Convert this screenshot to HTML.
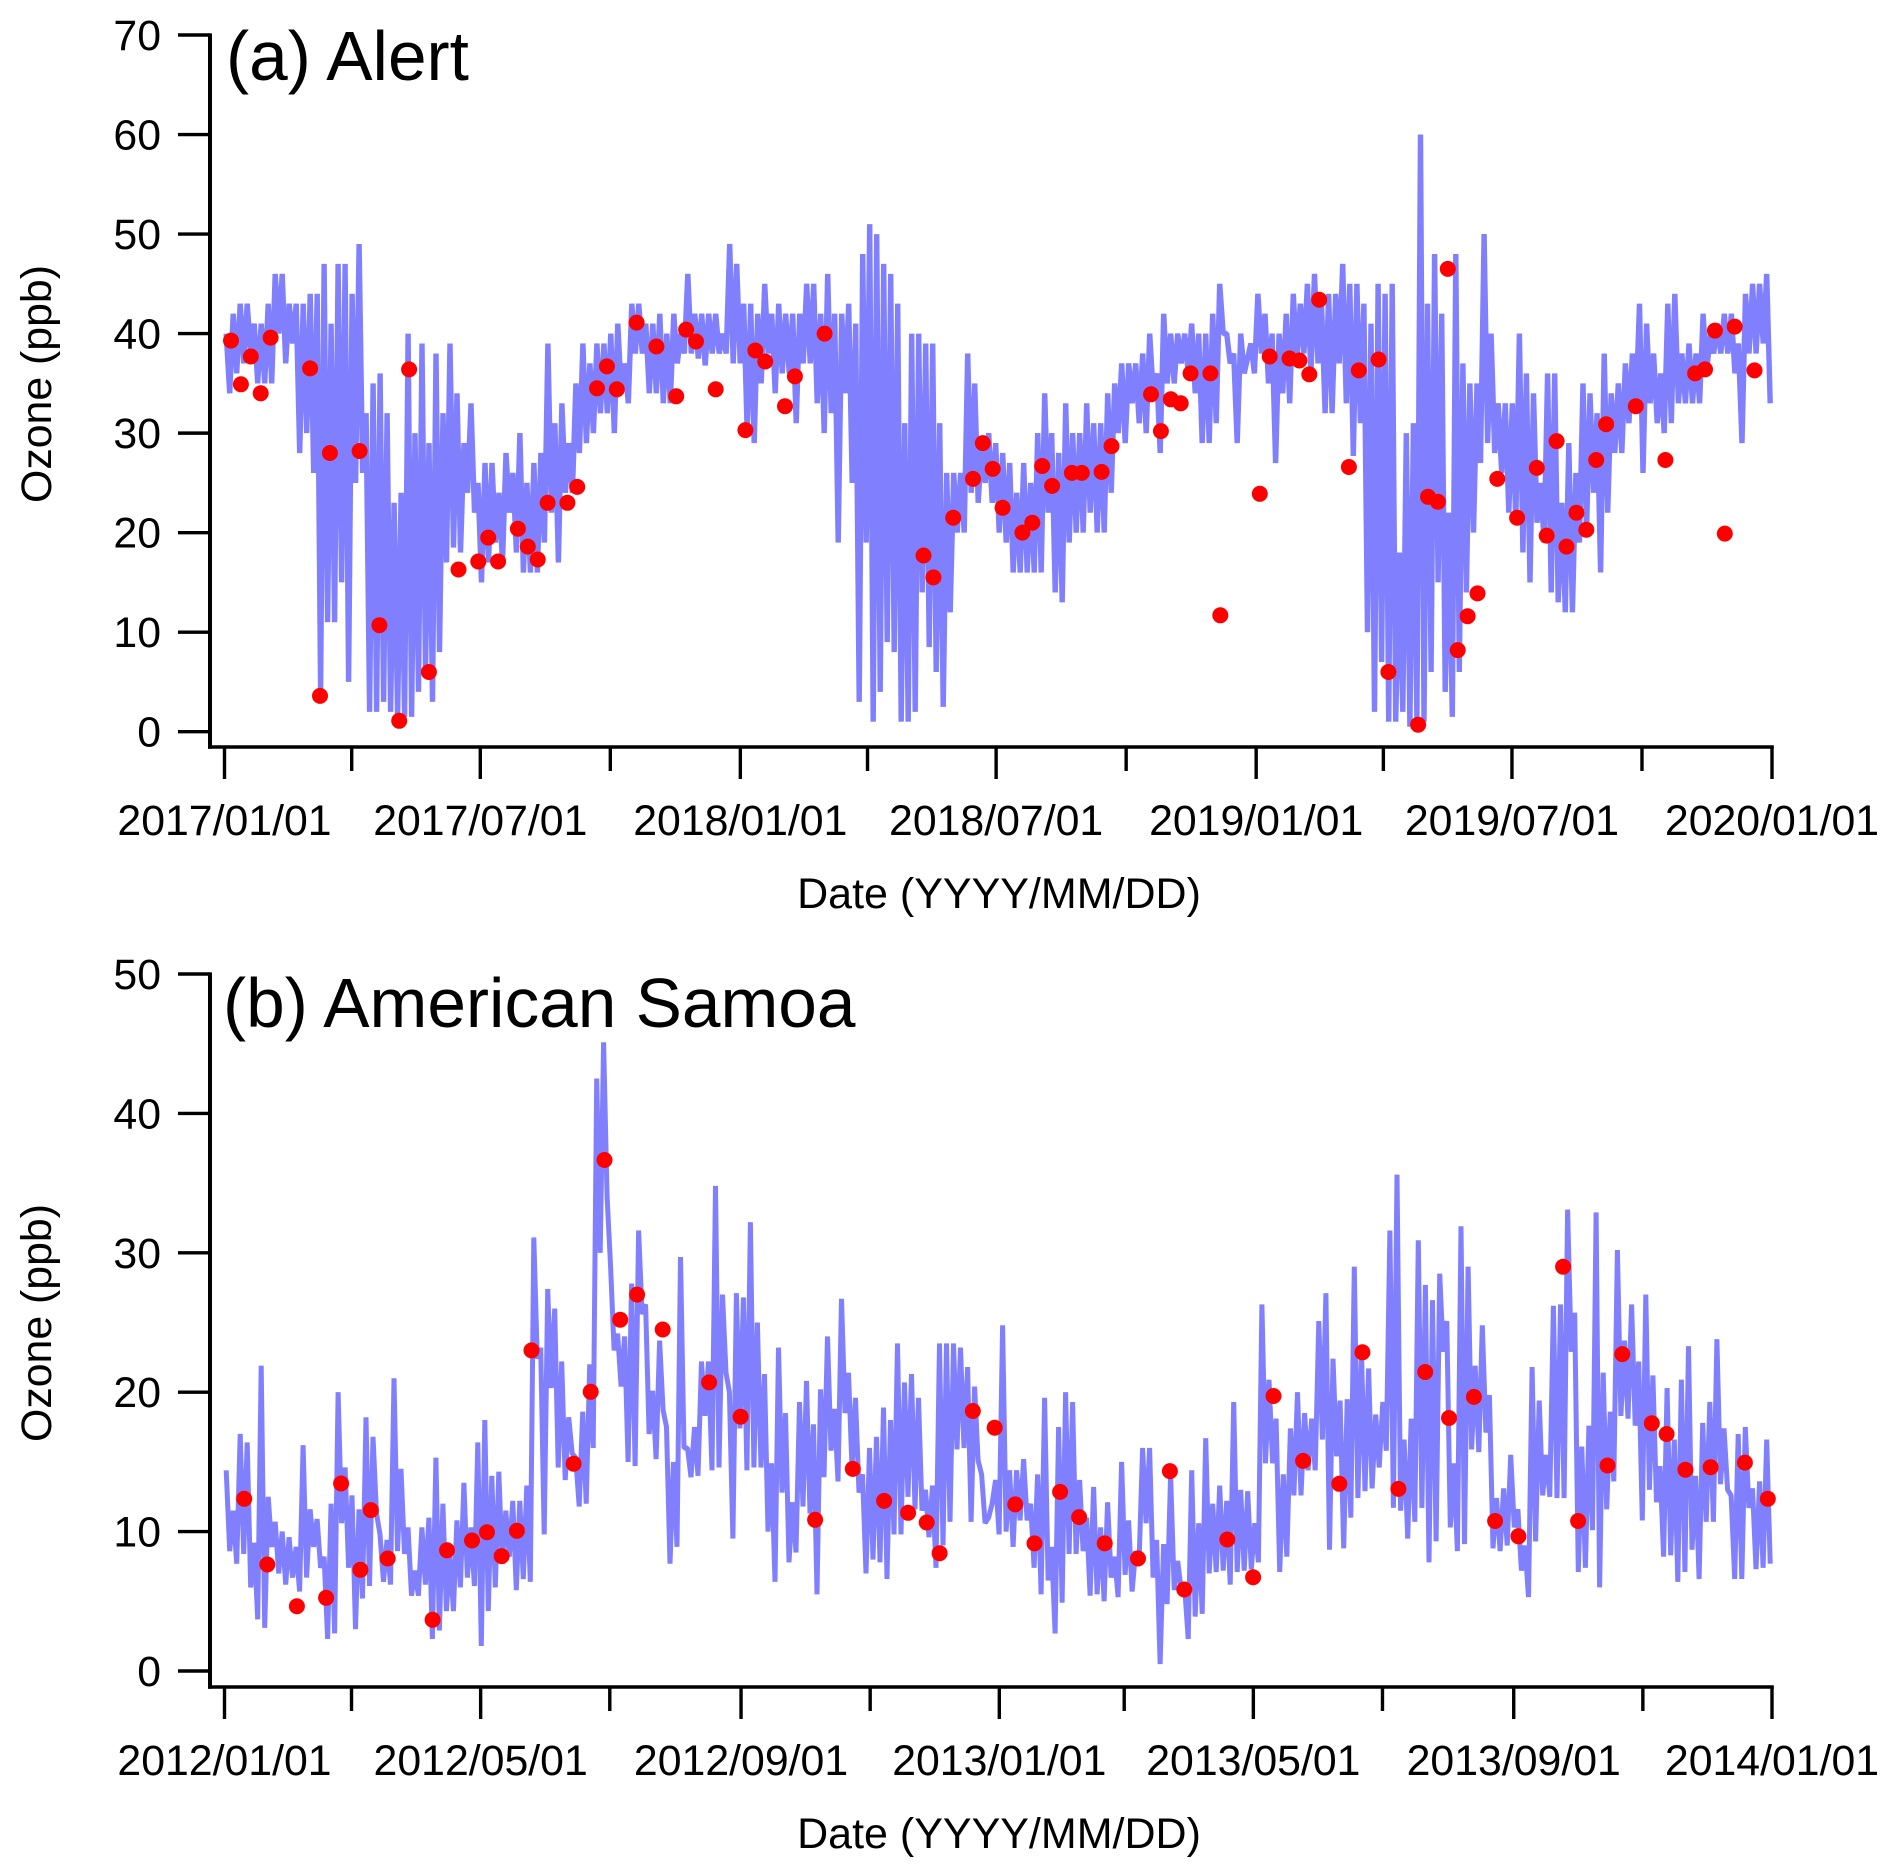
<!DOCTYPE html>
<html lang="en">
<head>
<meta charset="utf-8">
<title>Ozone time series: Alert and American Samoa</title>
<style>
html,body{margin:0;padding:0;background:#fff}
svg{display:block}
text{font-family:"Liberation Sans",Arial,sans-serif;fill:#000}
.t{font-size:42.8px}
.h{font-size:69.4px}
.d{font-size:43px}
</style>
</head>
<body>
<svg id="fig" xmlns="http://www.w3.org/2000/svg" width="1892" height="1876" viewBox="0 0 1892 1876">
  <rect x="0" y="0" width="1892" height="1876" fill="#fff"/>
  <g id="panelA"></g>
  <g id="panelB"></g>
  <text class="h" x="226" y="80">(a) Alert</text>
  <text class="h" x="223" y="1027">(b) American Samoa</text>
  <text class="t" text-anchor="middle" transform="translate(51,384) rotate(-90)">Ozone (ppb)</text>
  <text class="t" text-anchor="middle" transform="translate(51,1323) rotate(-90)">Ozone (ppb)</text>
  <text class="d" text-anchor="middle" x="999" y="908">Date (YYYY/MM/DD)</text>
  <text class="d" text-anchor="middle" x="999" y="1848">Date (YYYY/MM/DD)</text>
</svg>
<script>
// ---------- Panel (a) Alert: data ----------
const alertYTicks = [0,10,20,30,40,50,60,70];
const alertXTickDays = [0,90,181,273,365,455,546,638,730,820,911,1003,1095];
const alertXTickLabels = ['2017/01/01','','2017/07/01','','2018/01/01','','2018/07/01','','2019/01/01','','2019/07/01','','2020/01/01'];
const alertChunkDays = [[0,361.2],[361.2,722.8],[725,1095]];
const alertOzone1 = [40,34,42,36,43,37,43,38,41,35,41,35,43,35,46,40,46,37,43,39,43,28,43,30,44,26,44,4,47,11,41,11,47,15,47,5,44,25,49,26,32,2,35,2,36,3,32,2,23,1.5,24,1.5,40,1.5,30,4,39,6,29,3,38,8,32,17,39,18.5,34,18,29,24,33,22,25,15,27,17,27,19,24,17,28,22,26,18,30,16,25,16,27,16,28,19,39,22,31,17,33,24,29,24,35,28,39,29,37,30,39,32,39,32,40,30,41,34,37,33,43,38,43,38,41,34,41,34,42,33,40,33,42,37,40,38,46,38,42,37.5,42,36.8,42,38,42,38,40,38,49,37];
const alertOzone2 = [47,37,43,30,43,29,42,35,45,38,42,34,43,36,42,36,42,31,42,37,45,37,45,33,42,30,46,32,42,19,42,34,43,25,41,3,48,19,51,1,50,4,47,9,46,8,43,1,31,1,40,2,40,14,39,8.5,39,6,31,2.5,26,12,26,20,26,20,38,24,35,23,29,25,30,23,29,20,28,19,27,16,24,16,27,16,25,16,30,16,34,22,30,14,28,13,33,19,30,20,30,20,33,22,31,20,31,20,34,24,35,30,37,29,37,33,37,31,38,30,40,34,36,28,42,35,40,35,40,37,40,36,41,34,40,29,40,29,42,31,45,40,40,37,38,29,40,36];
const alertOzone3 = [39,36,44,38,42,35,40,27,40,34,42,33,44,37,43,38,45,36,46,37,43,32,44,32,44,37,47,33,45,27.7,45,31,43,10,41,2,45,7,44,1,45,1,18,2,30,0.5,31,1,60,1,43,6,48,15,42,4,22,1.5,48,6,37,14,35,20,35,27,50,29,40,28,33,26,33,22,33,21,40,18,36,15,34,21,25,19,36,14,36,13,23,12,29,12,26,19,35,20,34,24,32,16,38,22,34,28,35,28,37,31,38,33,43,26,41,33,38,31,36,30,43,31,44,33,38,33,39,33,38,33,42,36,40,38,41,38,42,38,42,36,39,29,44,38,45,38,45,39,46,33];
const alertObsWeeks = [0,1,2,3,4,8,9,10,13,15,17,18,20,23,25,26,27,29,30,31,32,34,35,37,38,39,41,43,45,46,47,49,52,53,54,56,57,60,70,71,73,75,76,77,78,80,81,82,83,85,86,88,89,93,94,95,96,97,99,100,104,105,107,108,109,110,113,114,116,117,120,121,122,123,124,125,126,128,130,132,133,134,135,136,137,138,139,142,145,148,149,150,151,152,154];
const alertObsOzone = [39.3,34.9,37.7,34,39.6,36.5,3.6,28,28.2,10.7,1.1,36.4,6,16.3,17.1,19.5,17.1,20.4,18.6,17.3,23,23,24.6,34.5,36.7,34.4,41.1,38.7,33.7,40.4,39.2,34.4,30.3,38.3,37.2,32.7,35.7,40,17.7,15.5,21.5,25.4,29,26.4,22.5,20,21,26.7,24.7,26,26,26.1,28.7,33.9,30.2,33.4,33,36,36,11.7,23.9,37.7,37.5,37.3,35.9,43.4,26.6,36.3,37.4,6,0.7,23.6,23.1,46.5,8.2,11.6,13.9,25.4,21.5,26.5,19.7,29.2,18.6,22,20.3,27.3,30.9,32.7,27.3,36,36.4,40.3,19.9,40.7,36.3];

// ---------- Panel (b) American Samoa: data ----------
const samoaYTicks = [0,10,20,30,40,50];
const samoaXTickDays = [0,60,121,182,244,305,366,425,486,547,609,670,731];
const samoaXTickLabels = ['2012/01/01','','2012/05/01','','2012/09/01','','2013/01/01','','2013/05/01','','2013/09/01','','2014/01/01'];
const samoaChunkDays = [[0,241],[241,482.5],[482.5,731]];
const samoaOzone1 = [14.4,8.6,11.5,7.7,17,8.4,16.4,6,9.2,3.7,21.9,3.1,12.5,8.9,10.7,7,10,6.2,9.6,6.7,8.9,5.7,16.2,6.7,11.6,8.9,10.9,7.4,8.2,2.3,12,2.7,20,10.6,14.6,7.4,12.6,3,11.6,5.2,18.2,6.1,16.8,11.3,9.8,6.4,9.4,6.2,21,8.6,14.5,8.4,10.3,5.4,7.2,5.4,10.3,6.2,11,2.3,15.3,2.9,12,4.3,8.4,4.3,10.8,6,13.5,6.7,10.3,6.1,16.4,1.8,18,4.3,14,6,14.3,7.7,11.5,8.2,12.2,5.8,12.2,6.6,13.3,6.4,31.1,22.4,23.2,9.8,27.4,20.3,26,14.6,22.2,13.7,18.2,15.6,15.3,11.8,18.6,12,22,16,42.5,30,45.1,34,29,23,24.2,20.4,24,15,27.8,14.7,31.6,25.6,26.3,17,20.1,15.2,23.7,18.7,17.5,7.7,15,8.9,29.7,16,16,13.9,17.5,14,22.2,18.3,22.2,14.4,34.8,14.6,27,21.4,20,9.5];
const samoaOzone2 = [27.1,17.4,26.8,14.4,32.2,14.6,25,14.6,21.3,10,14.9,6.4,23.2,12.8,18.5,7.8,12.1,8.5,19.3,11.8,20.8,11.3,17.7,5.5,20.2,13.9,24,15.8,18.8,13.6,26.7,18.5,21.4,14.6,19.6,12.8,14.1,7,16,8,16.8,7.8,18.9,6.6,18,9.8,23.5,9.8,20.7,12.5,21.3,11.6,19.6,11.5,13,9.6,13.3,7.4,23.5,9,23.5,10.7,23.5,15.9,23.2,16,21.8,10.7,20.4,15.1,14.1,10.6,11,12,13.7,9.8,24.8,10,14.4,8.9,14.4,10.8,15.2,10.8,12,7.4,14.1,5.5,19.6,6.5,8.9,2.7,17.5,4.9,20,8.4,19.3,8.4,13.7,8.6,11,5.4,13.2,5.5,10.3,5,12.1,6.7,8.2,5.3,15,6.9,10.8,5.7,8.6,7.9,16,10.6,16,6.7,9.4,0.5,9.1,4.8,14.1,5.8,7.9,5.8,6,2.3,14.4,3.9,10.6,4.1,16.7,7,12,7.1,13.3,7.2,12.2,6.2,19.3,7.1,13,7.2];
const samoaOzone3 = [12.9,7.3,10.6,7.8,26.3,14.9,20.9,14.9,18.1,7.1,14.1,8.2,17.4,12.6,20,12.6,18.5,14.4,18.1,14.4,25.1,16.6,27.1,8.7,22.4,15.4,19.4,8.8,19.5,11,29,12.4,22.9,12.9,21.7,13.1,18.4,14.6,19.3,15.8,31.6,11.7,35.6,11.5,16.6,9.5,18.1,10.7,30.9,11.7,27.7,7.8,26.6,9.3,28.5,22.9,25.1,10.3,14.9,8.6,31.9,9.1,29,15.9,21.9,15.7,24.8,17.1,19.8,8.8,12.4,8.6,13.1,9,15.5,10.3,11.6,7.2,9,5.3,21.8,9.3,19.4,12.6,15.5,12.5,26.2,12.4,26.3,12.4,33.1,22.9,25.7,7.1,16.1,7.4,17.6,10.1,32.9,6,21.4,11.6,18.6,13.6,30.2,18.3,23.7,18.1,26.3,17.6,22.2,10.8,27,13,21.2,12.1,14.7,8.2,20.3,8.3,16.6,6.4,20.9,7.1,23.3,8.7,14,6.6,17.8,10.7,19.3,10.7,23.8,13.4,17.4,13,12.6,6.6,17,6.6,17.5,11.7,13.1,7.3,13.6,7.4,16.6,7.7];
const samoaObsDays = [9.3,20.2,34.2,48,55.1,64.2,69.1,77.1,98.3,105.1,116.9,124,130.9,138.1,145,164.9,173,179.5,186.9,194.9,207,228.9,243.8,279,296.8,311.6,322.9,331.7,337.8,353.5,363.8,373.5,382.6,394.7,403.7,415.8,431.5,446.6,453.4,473.7,485.9,495.5,509.5,526.6,537.5,554.5,567.2,578.4,590.2,600.2,611.2,632.3,639.4,653.3,660.3,674.2,681.2,690.1,702,718.2,729];
const samoaObsOzone = [12.35,7.64,4.65,5.25,13.45,7.26,11.54,8.07,3.67,8.66,9.36,9.96,8.24,10.06,23,14.87,20.03,36.66,25.2,27,24.5,20.7,18.24,10.85,14.5,12.2,11.35,10.65,8.45,18.65,17.45,11.95,9.15,12.85,11.04,9.15,8.07,14.34,5.85,9.43,6.73,19.73,15.07,13.43,22.86,13.06,21.45,18.15,19.66,10.76,9.66,29,10.76,14.74,22.73,17.77,17,14.44,14.62,14.95,12.35];

// ---------- Axis scales ----------
const NS = 'http://www.w3.org/2000/svg';
const plotLeft = 224.5, plotRight = 1772;
function xAlert(day){ return plotLeft + day * (plotRight - plotLeft) / 1095; }
function yAlert(v){ return 731.7 - v * (731.7 - 35) / 70; }
function xSamoa(day){ return plotLeft + day * (plotRight - plotLeft) / 731; }
function ySamoa(v){ return 1671 - v * (1671 - 974) / 50; }
const alertWeekDay = w => 4.6 + 7 * w;

function mk(parent, tag){
  const el = document.createElementNS(NS, tag);
  parent.appendChild(el);
  return el;
}

function linePath(chunks, chunkDays, xf, yf){
  let d = '';
  chunks.forEach(function(vals, c){
    const s = chunkDays[c][0], e = chunkDays[c][1];
    vals.forEach(function(v, i){
      const x = xf(s + (i + 0.5) / vals.length * (e - s)).toFixed(1);
      const y = yf(v).toFixed(1);
      d += (d ? 'L' : 'M') + x + ' ' + y;
    });
  });
  return d;
}

function drawAxes(g, xf, yf, yTicks, xDays, xLabels, axisTop, axisBottom, prefix){
  const yLine = mk(g, 'line');
  
  
  yLine.setAttribute('x1', 210); yLine.setAttribute('x2', 210);
  yLine.setAttribute('y1', axisTop - 1.6); yLine.setAttribute('y2', axisBottom + 1.8);
  yLine.setAttribute('stroke', '#000'); yLine.setAttribute('stroke-width', 4);

  const xLine = mk(g, 'line');
  
  
  xLine.setAttribute('x1', 208); xLine.setAttribute('x2', plotRight + 1.8);
  xLine.setAttribute('y1', axisBottom); xLine.setAttribute('y2', axisBottom);
  xLine.setAttribute('stroke', '#000'); xLine.setAttribute('stroke-width', 3.6);

  yTicks.forEach(function(v){
    const t = mk(g, 'line');
    
    
    t.setAttribute('x1', 178); t.setAttribute('x2', 210);
    t.setAttribute('y1', yf(v)); t.setAttribute('y2', yf(v));
    t.setAttribute('stroke', '#000'); t.setAttribute('stroke-width', 3.4);
    const l = mk(g, 'text');
    
    
    l.setAttribute('class', 't');
    l.setAttribute('text-anchor', 'end');
    l.setAttribute('x', 161);
    l.setAttribute('y', yf(v) + 15);
    l.textContent = String(v);
  });

  xDays.forEach(function(day, i){
    const major = xLabels[i] !== '';
    const t = mk(g, 'line');
    
    
    t.setAttribute('x1', xf(day)); t.setAttribute('x2', xf(day));
    t.setAttribute('y1', axisBottom); t.setAttribute('y2', axisBottom + (major ? 32 : 24));
    t.setAttribute('stroke', '#000'); t.setAttribute('stroke-width', 3.4);
    if (major) {
      const l = mk(g, 'text');
      
      
      l.setAttribute('class', 't');
      l.setAttribute('text-anchor', 'middle');
      l.setAttribute('x', xf(day));
      l.setAttribute('y', axisBottom + 88);
      l.textContent = xLabels[i];
    }
  });
}

function drawLine(g, d, name, width){
  const p = mk(g, 'path');
  
  
  p.setAttribute('d', d);
  p.setAttribute('fill', 'none');
  p.setAttribute('stroke', '#8080ff');
  p.setAttribute('stroke-width', width);
  p.setAttribute('stroke-linejoin', 'bevel');
}

function drawDot(g, x, y, name){
  const c = mk(g, 'circle');
  
  
  c.setAttribute('cx', x.toFixed(1));
  c.setAttribute('cy', y.toFixed(1));
  c.setAttribute('r', 8);
  c.setAttribute('fill', '#ff0000');
}

// ---------- Panel (a) ----------
const gA = document.getElementById('panelA');
drawLine(gA, linePath([alertOzone1, alertOzone2, alertOzone3], alertChunkDays, xAlert, yAlert), 'alert-hourly-ozone-line', 5.4);
alertObsWeeks.forEach(function(w, i){
  drawDot(gA, xAlert(alertWeekDay(w)), yAlert(alertObsOzone[i]), 'alert-ozonesonde-point');
});
drawAxes(gA, xAlert, yAlert, alertYTicks, alertXTickDays, alertXTickLabels, 35, 747, 'panel-a');

// ---------- Panel (b) ----------
const gB = document.getElementById('panelB');
drawLine(gB, linePath([samoaOzone1, samoaOzone2, samoaOzone3], samoaChunkDays, xSamoa, ySamoa), 'samoa-hourly-ozone-line', 5);
samoaObsDays.forEach(function(day, i){
  drawDot(gB, xSamoa(day), ySamoa(samoaObsOzone[i]), 'samoa-ozonesonde-point');
});
drawAxes(gB, xSamoa, ySamoa, samoaYTicks, samoaXTickDays, samoaXTickLabels, 974, 1687, 'panel-b');
</script>
</body>
</html>
